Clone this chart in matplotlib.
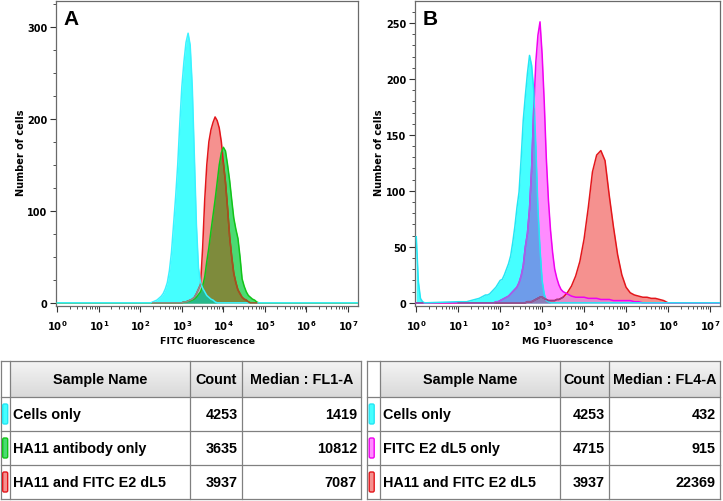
import numpy as np
import matplotlib
matplotlib.use('Agg')
import matplotlib.pyplot as plt
from matplotlib.patches import FancyBboxPatch
from matplotlib.colors import LinearSegmentedColormap

plt.rcParams['font.family'] = ['Liberation Sans', 'DejaVu Sans']
plt.rcParams['mathtext.fontset'] = 'custom'
plt.rcParams['mathtext.rm'] = 'DejaVu Sans'
plt.rcParams['mathtext.bf'] = 'DejaVu Sans:bold'

# ---- panel A: FITC fluorescence (log10 of FL1-A), cells per bin ----
fitc_log = np.round(np.r_[0.0, np.arange(2.0, 5.001, 0.05), 7.24], 2)
a_cells = [0,
           0, 0, 0, 0, 0, 0, 1, 2, 3, 5,
           7, 10, 15, 22, 35, 55, 85, 115, 150, 195,
           235, 262, 283, 293, 280, 235, 160, 85, 38, 22,
           16, 12, 8, 6, 4, 3, 1, 0, 0, 0,
           0, 0, 0, 0, 0, 0, 0, 0, 0, 0,
           0, 0, 0, 0, 0, 0, 0, 0, 0, 0,
           0,
           0]
a_ha11 = [0,
          0, 0, 0, 0, 0, 0, 0, 0, 0, 0,
          0, 0, 0, 0, 0, 0, 0, 0, 0, 0,
          0, 1, 1, 2, 2, 3, 4, 6, 9, 12,
          18, 28, 45, 60, 78, 95, 112, 131, 150, 163,
          169, 165, 150, 133, 112, 92, 80, 70, 50, 26,
          18, 12, 8, 6, 4, 3, 1, 0, 0, 0,
          0,
          0]
a_e2 = [0,
        0, 0, 0, 0, 0, 0, 0, 0, 0, 0,
        0, 0, 0, 0, 0, 0, 0, 0, 0, 0,
        0, 1, 1, 2, 3, 4, 6, 10, 15, 20,
        60, 112, 150, 175, 188, 196, 202, 198, 190, 175,
        152, 131, 103, 72, 50, 32, 22, 14, 10, 6,
        4, 3, 1, 0, 0, 0, 0, 0, 0, 0,
        0,
        0]

# ---- panel B: MG fluorescence (log10 of FL4-A) ----
mg_log = np.round(np.r_[0.0, 0.05, 0.1, 0.15, 0.2, 1.0, 1.1, 1.2, 1.3, 1.4,
                        np.arange(1.5, 3.46, 0.05), np.arange(3.5, 6.01, 0.1), 7.24], 2)
b_cells = [59, 19, 4, 1, 0, 1, 1, 1, 2, 3,
           4, 5, 6, 7, 7, 8, 10, 12, 14, 17,
           20, 21, 25, 30, 35, 42, 54, 68, 85, 99,
           129, 163, 185, 205, 221, 212, 190, 140, 84, 48,
           20, 8, 2, 1, 0, 0, 0, 0, 0, 0,
           0, 0, 0, 0, 0, 0, 0, 0, 0, 0,
           0, 0, 0, 0, 0, 0, 0, 0, 0, 0,
           0, 0, 0, 0, 0, 0,
           0]
b_e2 = [0, 0, 0, 0, 0, 0, 0, 0, 0, 0,
        0, 0, 0, 0, 0, 0, 0, 0, 1, 1,
        2, 3, 4, 5, 6, 8, 10, 12, 14, 18,
        24, 33, 50, 62, 84, 120, 173, 215, 239, 251,
        222, 180, 129, 92, 65, 45, 30, 22, 16, 12,
        10, 8, 6, 5, 5, 5, 4, 4, 4, 3,
        3, 3, 2, 2, 2, 2, 2, 1, 1, 0,
        0, 0, 0, 0, 0, 0,
        0]
b_ha11_e2 = [0, 0, 0, 0, 0, 0, 0, 0, 0, 0,
             0, 0, 0, 0, 0, 0, 0, 0, 0, 0,
             0, 0, 0, 0, 0, 0, 0, 0, 0, 0,
             0, 0, 0, 1, 1, 1, 2, 3, 4, 5,
             5, 4, 3, 2, 2, 2, 2, 3, 3, 4,
             5, 9, 15, 24, 37, 57, 85, 117, 132, 136,
             127, 96, 68, 43, 25, 14, 9, 7, 6, 5,
             5, 4, 4, 3, 2, 0,
             0]

# ---- tables ----
a_names = ['Cells only', 'HA11 antibody only', 'HA11 and FITC E2 dL5']
a_counts = [4253, 3635, 3937]
a_medians = [1419, 10812, 7087]
b_names = ['Cells only', 'FITC E2 dL5 only', 'HA11 and FITC E2 dL5']
b_counts = [4253, 4715, 3937]
b_medians = [432, 915, 22369]

CYAN_F, CYAN_E = '#45FFFF', '#25E6F4'
GREEN_F, GREEN_E = '#4ADB72', '#12C418'
RED_F, RED_E = '#F5918F', '#E3161B'
MAG_F, MAG_E = '#FF8CFF', '#F000F0'

W, H = 723, 502
fig = plt.figure(figsize=(W / 100, H / 100), dpi=100)


def overlay(ax, x, series, fills, edges, blends, tints):
    ys = [np.asarray(s, float) for s in series]
    for y, c in zip(ys, fills):
        ax.fill_between(x, 0, y, color=c, lw=0, zorder=1)
    # shared areas get their own blended colour (pairs first, then triples)
    for key in sorted(blends, key=len):
        low = np.min([ys[k] for k in key], axis=0)
        ax.fill_between(x, 0, low, color=blends[key], lw=0, zorder=2)
    for y, c in zip(ys, edges):
        ax.plot(x, y, color=c, lw=1.1, zorder=3, solid_joinstyle='round')
    for i, j, c in tints:
        m = np.ma.masked_where(~(ys[i] < ys[j]), ys[i])
        ax.plot(x, m, color=c, lw=1.1, zorder=4)


def style(ax, ymax, ymajor, yminor, xlabel, letter, ylab_x):
    ax.set_xlim(-0.03, 7.24)
    ax.set_ylim(-ymax * 0.0105, ymax)
    ax.set_xticks(range(8))
    ax.set_xticklabels([r'$\mathbf{10^{%d}}$' % k for k in range(8)])
    ax.set_xticks([d + np.log10(m) for d in range(7) for m in range(2, 10)], minor=True)
    ax.set_yticks(np.arange(0, ymax, ymajor))
    ax.set_yticks(np.arange(0, ymax, yminor), minor=True)
    for s in ax.spines.values():
        s.set_color('#6a6a6a')
        s.set_linewidth(0.9)
    ax.tick_params(which='major', length=4.5, width=0.8, color='#333333')
    ax.tick_params(which='minor', length=2.5, width=0.6, color='#333333')
    ax.tick_params(axis='x', labelsize=7.2, pad=4)
    ax.tick_params(axis='y', labelsize=7, pad=1.5)
    for t in ax.get_yticklabels():
        t.set_fontweight('bold')
        t.set_family('DejaVu Sans')
    ax.set_ylabel('Number of cells', fontsize=7, fontweight='bold', family='DejaVu Sans')
    ax.yaxis.set_label_coords(ylab_x, 0.505)
    ax.set_xlabel(xlabel, fontsize=6.8, fontweight='bold', family='DejaVu Sans')
    ax.xaxis.set_label_coords(0.5, -0.1)
    ax.text(0.025, 0.975, letter, transform=ax.transAxes, fontsize=15,
            fontweight='bold', va='top', ha='left')


def table(cols, sw_f, sw_e, names, counts, medians, median_head):
    x0, x1, x2, x3, x4 = cols
    rows = [362, 398, 432, 466, 500]
    ax = fig.add_axes([x0 / W, 1 - rows[-1] / H, (x4 - x0) / W, (rows[-1] - rows[0]) / H])
    grad = np.linspace(0, 1, 40).reshape(-1, 1)
    cmap = LinearSegmentedColormap.from_list('hdr', ['#f4f4f4', '#d9d9d9'])
    ax.imshow(grad, extent=(x1, x4, rows[1], rows[0]), cmap=cmap, aspect='auto', zorder=0)
    ax.set_xlim(x0, x4)
    ax.set_ylim(rows[-1], rows[0])
    ax.axis('off')
    lc = '#808080'
    for y in rows:
        ax.plot([x0, x4], [y, y], color=lc, lw=0.9, clip_on=False, zorder=2)
    for x in cols:
        ax.plot([x, x], [rows[0], rows[-1]], color=lc, lw=0.9, clip_on=False, zorder=2)
    yc = (rows[0] + rows[1]) / 2
    kw = dict(fontsize=10.4, fontweight='bold', va='center')
    ax.text((x1 + x2) / 2, yc, 'Sample Name', ha='center', **kw)
    ax.text((x2 + x3) / 2, yc, 'Count', ha='center', **kw)
    ax.text((x3 + x4) / 2, yc, median_head, ha='center', **kw)
    for r, (n, c, m) in enumerate(zip(names, counts, medians)):
        yc = (rows[r + 1] + rows[r + 2]) / 2
        ax.add_patch(FancyBboxPatch((x0 + 2.2, yc - 10), 5, 20,
                                    boxstyle='round,pad=0,rounding_size=1.5',
                                    fc=sw_f[r], ec=sw_e[r], lw=1, zorder=3))
        ax.text(x1 + 3, yc, n, ha='left', **kw)
        ax.text(x3 - 4, yc, str(c), ha='right', **kw)
        ax.text(x4 - 4, yc, str(m), ha='right', **kw)


# panel A histogram
axA = fig.add_axes([56 / W, 1 - 307 / H, 302 / W, 305 / H])
overlay(axA, fitc_log, [a_e2, a_ha11, a_cells],
        [RED_F, GREEN_F, CYAN_F],
        [RED_E, GREEN_E, '#3CF2FF'],
        {(0, 1): '#7E8B3C', (0, 2): '#A8C4C2', (1, 2): '#2EC79A', (0, 1, 2): '#27B98C'},
        [(0, 1, '#9A5A1E'), (0, 2, '#8E8E8E')])
style(axA, 328, 100, 25, 'FITC fluorescence', 'A', -0.1)

# panel B histogram
axB = fig.add_axes([415 / W, 1 - 307 / H, 305 / W, 305 / H])
overlay(axB, mg_log, [b_ha11_e2, b_e2, b_cells],
        [RED_F, MAG_F, CYAN_F],
        [RED_E, MAG_E, CYAN_E],
        {(0, 1): '#E48AC8', (1, 2): '#6E9CEA', (0, 2): '#9AB8C0', (0, 1, 2): '#8A7DB8'},
        [(1, 2, '#A065E6'), (0, 1, '#9A3A8A'), (0, 2, '#8A5A9A')])
style(axB, 269.6, 50, 10, 'MG Fluorescence', 'B', -0.1)

table([0.5, 10, 190, 242, 361], [CYAN_F, GREEN_F, RED_F], [CYAN_E, GREEN_E, RED_E],
      a_names, a_counts, a_medians, 'Median : FL1-A')
table([367, 380, 560, 609, 720], [CYAN_F, MAG_F, RED_F], [CYAN_E, MAG_E, RED_E],
      b_names, b_counts, b_medians, 'Median : FL4-A')

fig.savefig('out.png', dpi=100)
